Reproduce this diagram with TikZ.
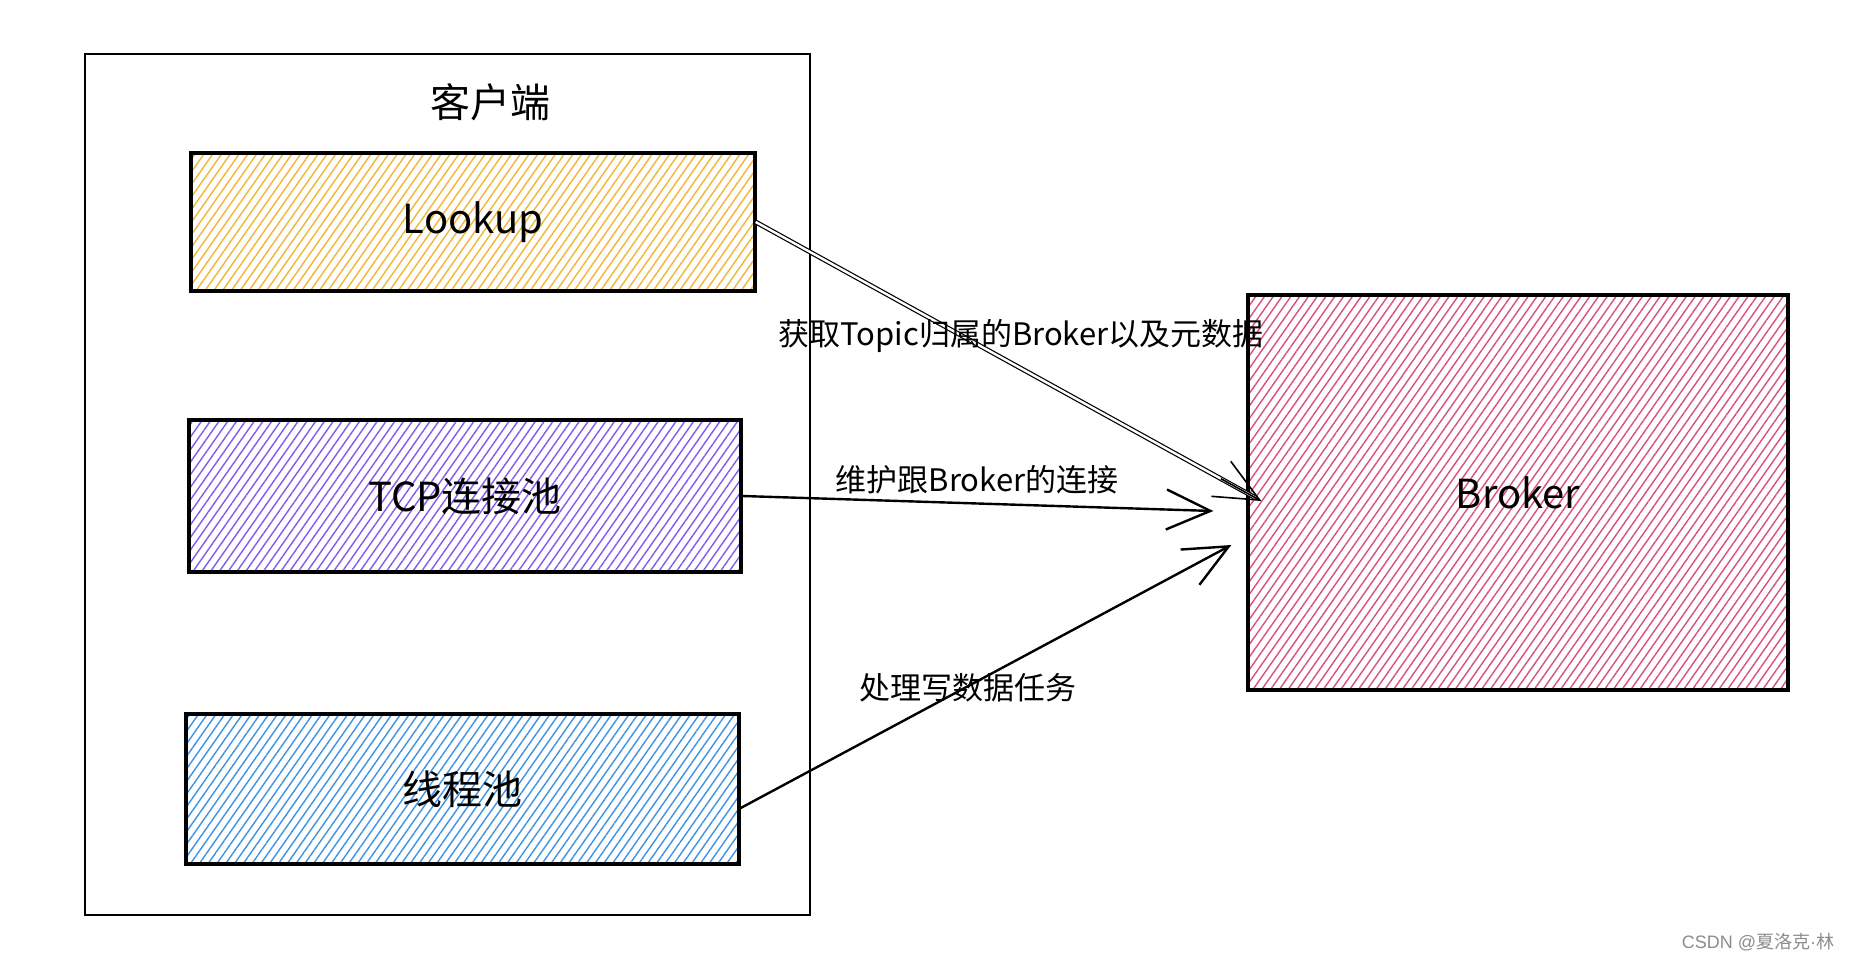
\documentclass[tikz,border=0pt]{standalone}
\usepackage{fontspec}
\newfontfamily\cjk{Noto Sans CJK SC}
\newfontfamily\latinfont{Liberation Sans}
\usetikzlibrary{
  calc, % Koordinatenrechnung
  patterns.meta, % Schraffur der Kaesten
  arrows.meta % Pfeilspitzen
}
\definecolor{hatchyellow}{HTML}{F2B632}
\definecolor{hatchviolet}{HTML}{7F5CF0}
\definecolor{hatchblue}{HTML}{3C93E4}
\definecolor{hatchpink}{HTML}{D9507E}

\begin{document}
\begin{tikzpicture}[
    x=0.5pt, y=-0.5pt, % 1 Einheit = 1 Pixel, y nach unten
    >={Straight Barb[length=22pt,width=20pt]}, % Standard-Pfeilspitze
    every node/.style={font=\cjk},
    box/.style={draw=black, line width=1.7pt, rectangle, inner sep=0pt,
      font=\cjk\fontsize{20}{24}\selectfont}, % Kaesten
    hatch/.style={pattern={Lines[angle=55,distance=3.6pt,line width=0.7pt]},
      pattern color=#1}, % Schraffur
    conn/.style={black, line width=1.2pt, ->}, % Verbindungspfeile
    note/.style={font=\cjk\fontsize{15.5}{18}\selectfont}, % Pfeiltexte
  ]

    % Rahmen
    \fill[white] (0,0) rectangle (1850,960);
    \useasboundingbox (0,0) rectangle (1850,960);

    % Client
    \node[draw=black, line width=1.3pt, minimum width=362.5pt, minimum height=430.5pt]
      (client) at (447.5,484.5) {};
    \node[font=\cjk\fontsize{20}{24}\selectfont] (clienttitle)
      at ($(client.north)+(42.5,50)$) {客户端};

    % Kaesten im Client
    \node[box, hatch=hatchyellow, minimum width=282pt, minimum height=69pt]
      (lookup) at (473,222) {Lookup};
    \node[box, hatch=hatchviolet, minimum width=276pt, minimum height=76pt]
      (tcppool) at (465,496) {TCP连接池};
    \node[box, hatch=hatchblue, minimum width=276.5pt, minimum height=75pt]
      (threadpool) at (462.5,789) {线程池};

    % Broker
    \node[box, hatch=hatchpink, minimum width=270pt, minimum height=197.5pt]
      (broker) at (1518,492.5) {Broker};

    % Pfeilenden
    \coordinate (tipa) at ($(broker.west)+(15,8.5)$);
    \coordinate (tipb) at ($(broker.west)+(-33,18.5)$);
    \coordinate (tipc) at ($(broker.west)+(-15,52.5)$);
    \coordinate (startc) at ($(threadpool.east)+(0,19)$);

    % Pfeile
    \draw[black, line width=0.6pt, double=white, double distance=1.2pt, shorten >=4pt]
      (lookup.east) -- (tipa);
    \draw[conn, line width=0.8pt] ($(lookup.east)!0.92!(tipa)$) -- (tipa);
    \draw[conn] (tcppool.east) -- (tipb);
    \draw[conn] (startc) -- (tipc);

    % Beschriftungen
    \node[note] (lbla) at (1021,336) {获取Topic归属的Broker以及元数据};
    \node[note] (lblb) at (977,480) {维护跟Broker的连接};
    \node[note] (lblc) at (968,688) {处理写数据任务};

    % Wasserzeichen
    \node[font=\cjk\fontsize{9}{11}\selectfont, text=black!45] (mark)
      at (1758,942) {{\latinfont CSDN @}夏洛克{\latinfont ·}林};

\end{tikzpicture}
\end{document}
